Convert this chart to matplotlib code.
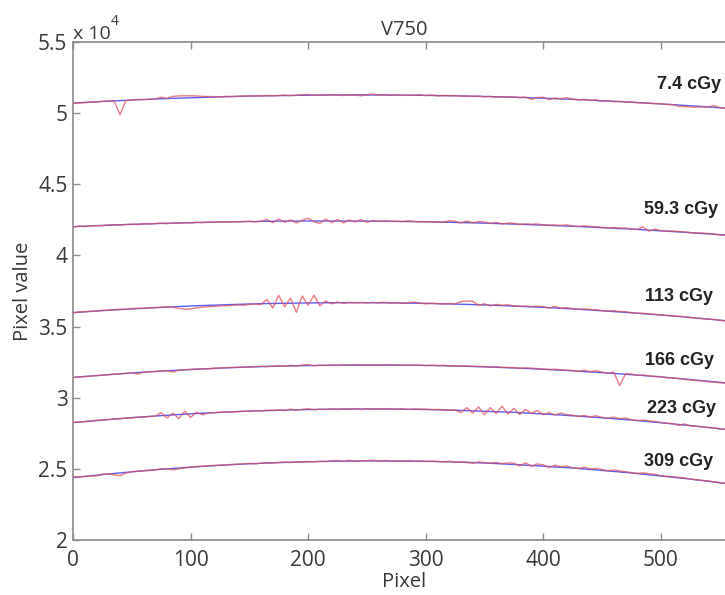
import matplotlib
matplotlib.use("Agg")
import matplotlib.pyplot as plt
from matplotlib.ticker import FormatStrFormatter, MultipleLocator

# ---- data (pixel values in units of 1e4) ----
x_fit = [0, 25, 50, 75, 100, 125, 150, 175, 200, 225, 250, 275, 300, 325, 350,
         375, 400, 425, 450, 475, 500, 525, 550, 560]
fit_7_4 = [5.071, 5.082, 5.092, 5.101, 5.108, 5.114, 5.120, 5.123, 5.126, 5.128, 5.128, 5.127,
           5.125, 5.122, 5.117, 5.112, 5.105, 5.097, 5.087, 5.077, 5.065, 5.052, 5.038, 5.032]
fit_59_3 = [4.202, 4.211, 4.218, 4.225, 4.230, 4.235, 4.238, 4.241, 4.242, 4.242, 4.241, 4.239,
            4.236, 4.232, 4.227, 4.220, 4.213, 4.205, 4.195, 4.185, 4.173, 4.160, 4.146, 4.141]
fit_113 = [3.598, 3.612, 3.624, 3.635, 3.645, 3.652, 3.659, 3.663, 3.666, 3.668, 3.668, 3.666,
           3.663, 3.658, 3.652, 3.644, 3.635, 3.624, 3.611, 3.597, 3.581, 3.564, 3.545, 3.537]
fit_166 = [3.143, 3.159, 3.174, 3.187, 3.198, 3.208, 3.216, 3.222, 3.226, 3.229, 3.230, 3.229,
           3.227, 3.223, 3.217, 3.209, 3.200, 3.189, 3.176, 3.162, 3.146, 3.128, 3.108, 3.100]
fit_223 = [2.825, 2.843, 2.860, 2.874, 2.887, 2.897, 2.906, 2.912, 2.917, 2.920, 2.921, 2.920,
           2.917, 2.912, 2.905, 2.897, 2.886, 2.873, 2.859, 2.843, 2.824, 2.804, 2.782, 2.772]
fit_309 = [2.438, 2.460, 2.479, 2.497, 2.512, 2.525, 2.536, 2.544, 2.550, 2.554, 2.556, 2.555,
           2.553, 2.548, 2.541, 2.531, 2.519, 2.506, 2.489, 2.471, 2.450, 2.428, 2.403, 2.392]

x_meas = list(range(0, 565, 5))
meas_7_4 = [
    5.068, 5.072, 5.074, 5.077, 5.079,
    5.083, 5.085, 5.084, 4.990, 5.088,
    5.094, 5.096, 5.095, 5.098, 5.099,
    5.112, 5.104, 5.118, 5.121, 5.122,
    5.122, 5.121, 5.118, 5.117, 5.116,
    5.115, 5.118, 5.117, 5.119, 5.121,
    5.120, 5.122, 5.121, 5.124, 5.122,
    5.124, 5.127, 5.123, 5.126, 5.129,
    5.131, 5.125, 5.129, 5.127, 5.130,
    5.126, 5.124, 5.129, 5.127, 5.122,
    5.129, 5.133, 5.127, 5.131, 5.126,
    5.130, 5.124, 5.128, 5.126, 5.129,
    5.123, 5.127, 5.121, 5.124, 5.122,
    5.124, 5.119, 5.121, 5.118, 5.120,
    5.115, 5.118, 5.112, 5.116, 5.113,
    5.114, 5.109, 5.113, 5.097, 5.110,
    5.112, 5.095, 5.106, 5.101, 5.108,
    5.099, 5.093, 5.097, 5.090, 5.094,
    5.082, 5.089, 5.080, 5.084, 5.076,
    5.078, 5.073, 5.071, 5.069, 5.067,
    5.066, 5.061, 5.060, 5.049, 5.047,
    5.043, 5.042, 5.044, 5.043, 5.053,
    5.040, 5.035, 5.031]
meas_59_3 = [
    4.200, 4.205, 4.203, 4.208, 4.210,
    4.209, 4.214, 4.216, 4.213, 4.218,
    4.220, 4.218, 4.223, 4.221, 4.224,
    4.227, 4.223, 4.228, 4.226, 4.231,
    4.229, 4.233, 4.231, 4.235, 4.232,
    4.237, 4.234, 4.238, 4.236, 4.239,
    4.240, 4.236, 4.241, 4.252, 4.230,
    4.256, 4.233, 4.250, 4.228, 4.247,
    4.262, 4.236, 4.226, 4.255, 4.231,
    4.253, 4.229, 4.249, 4.235, 4.252,
    4.232, 4.246, 4.238, 4.243, 4.240,
    4.241, 4.238, 4.243, 4.240, 4.237,
    4.238, 4.235, 4.237, 4.234, 4.244,
    4.240, 4.228, 4.242, 4.230, 4.238,
    4.235, 4.224, 4.233, 4.221, 4.228,
    4.226, 4.218, 4.222, 4.219, 4.221,
    4.215, 4.212, 4.214, 4.211, 4.215,
    4.207, 4.204, 4.208, 4.203, 4.202,
    4.197, 4.193, 4.196, 4.192, 4.193,
    4.186, 4.183, 4.200, 4.170, 4.185,
    4.174, 4.171, 4.172, 4.168, 4.166,
    4.161, 4.157, 4.158, 4.154, 4.150,
    4.144, 4.141, 4.139]
meas_113 = [
    3.597, 3.602, 3.605, 3.608, 3.609,
    3.614, 3.616, 3.618, 3.622, 3.620,
    3.626, 3.629, 3.627, 3.632, 3.634,
    3.636, 3.639, 3.635, 3.628, 3.622,
    3.623, 3.632, 3.636, 3.640, 3.642,
    3.645, 3.647, 3.649, 3.652, 3.650,
    3.656, 3.658, 3.655, 3.690, 3.630,
    3.720, 3.640, 3.700, 3.600, 3.715,
    3.650, 3.720, 3.645, 3.680, 3.660,
    3.672, 3.663, 3.670, 3.666, 3.669,
    3.666, 3.670, 3.667, 3.671, 3.665,
    3.668, 3.664, 3.667, 3.672, 3.665,
    3.660, 3.664, 3.661, 3.658, 3.662,
    3.660, 3.675, 3.680, 3.678, 3.650,
    3.660, 3.645, 3.656, 3.650, 3.653,
    3.646, 3.642, 3.645, 3.640, 3.643,
    3.640, 3.630, 3.642, 3.628, 3.633,
    3.626, 3.622, 3.624, 3.620, 3.619,
    3.612, 3.609, 3.611, 3.606, 3.605,
    3.598, 3.594, 3.593, 3.590, 3.586,
    3.582, 3.579, 3.576, 3.572, 3.570,
    3.563, 3.560, 3.556, 3.553, 3.550,
    3.545, 3.540, 3.536]
meas_166 = [
    3.141, 3.146, 3.148, 3.152, 3.155,
    3.158, 3.162, 3.165, 3.168, 3.171,
    3.175, 3.166, 3.180, 3.183, 3.184,
    3.188, 3.191, 3.180, 3.194, 3.196,
    3.199, 3.201, 3.204, 3.203, 3.207,
    3.209, 3.211, 3.213, 3.214, 3.215,
    3.217, 3.218, 3.221, 3.219, 3.222,
    3.224, 3.221, 3.228, 3.223, 3.230,
    3.233, 3.224, 3.229, 3.226, 3.231,
    3.227, 3.231, 3.228, 3.230, 3.232,
    3.228, 3.231, 3.229, 3.232, 3.230,
    3.231, 3.227, 3.230, 3.228, 3.229,
    3.225, 3.229, 3.226, 3.228, 3.224,
    3.225, 3.221, 3.224, 3.222, 3.219,
    3.219, 3.215, 3.218, 3.214, 3.213,
    3.211, 3.207, 3.210, 3.208, 3.205,
    3.201, 3.198, 3.200, 3.196, 3.194,
    3.192, 3.185, 3.194, 3.183, 3.190,
    3.180, 3.172, 3.180, 3.085, 3.168,
    3.166, 3.157, 3.160, 3.154, 3.150,
    3.148, 3.141, 3.138, 3.135, 3.130,
    3.124, 3.121, 3.118, 3.113, 3.110,
    3.106, 3.103, 3.099]
meas_223 = [
    2.827, 2.829, 2.832, 2.836, 2.840,
    2.844, 2.846, 2.850, 2.853, 2.856,
    2.858, 2.862, 2.864, 2.868, 2.871,
    2.895, 2.858, 2.892, 2.853, 2.905,
    2.862, 2.898, 2.880, 2.892, 2.895,
    2.898, 2.901, 2.899, 2.903, 2.905,
    2.904, 2.909, 2.907, 2.912, 2.910,
    2.914, 2.909, 2.920, 2.912, 2.918,
    2.922, 2.915, 2.919, 2.917, 2.921,
    2.918, 2.922, 2.919, 2.924, 2.916,
    2.923, 2.919, 2.922, 2.920, 2.924,
    2.918, 2.923, 2.917, 2.921, 2.919,
    2.920, 2.916, 2.918, 2.915, 2.914,
    2.913, 2.895, 2.930, 2.892, 2.935,
    2.880, 2.930, 2.890, 2.940, 2.885,
    2.925, 2.882, 2.918, 2.890, 2.910,
    2.880, 2.896, 2.878, 2.892, 2.881,
    2.878, 2.868, 2.875, 2.866, 2.873,
    2.862, 2.855, 2.864, 2.852, 2.858,
    2.845, 2.840, 2.842, 2.837, 2.834,
    2.826, 2.822, 2.818, 2.806, 2.816,
    2.803, 2.800, 2.796, 2.792, 2.788,
    2.782, 2.777, 2.771]
meas_309 = [
    2.445, 2.443, 2.447, 2.449, 2.451,
    2.462, 2.464, 2.458, 2.452, 2.470,
    2.480, 2.483, 2.487, 2.490, 2.494,
    2.499, 2.502, 2.493, 2.500, 2.507,
    2.512, 2.517, 2.519, 2.521, 2.524,
    2.526, 2.528, 2.531, 2.533, 2.535,
    2.538, 2.535, 2.540, 2.543, 2.541,
    2.545, 2.549, 2.544, 2.550, 2.547,
    2.552, 2.549, 2.553, 2.551, 2.556,
    2.559, 2.552, 2.560, 2.553, 2.558,
    2.557, 2.561, 2.554, 2.559, 2.555,
    2.557, 2.553, 2.558, 2.554, 2.556,
    2.551, 2.555, 2.552, 2.549, 2.554,
    2.546, 2.550, 2.547, 2.540, 2.549,
    2.543, 2.539, 2.545, 2.537, 2.542,
    2.540, 2.520, 2.543, 2.518, 2.535,
    2.528, 2.510, 2.526, 2.515, 2.520,
    2.508, 2.503, 2.512, 2.500, 2.504,
    2.496, 2.485, 2.492, 2.486, 2.480,
    2.474, 2.468, 2.472, 2.466, 2.462,
    2.452, 2.447, 2.445, 2.441, 2.437,
    2.429, 2.424, 2.420, 2.415, 2.410,
    2.403, 2.398, 2.391]

dose_labels = ["7.4 cGy", "59.3 cGy", "113 cGy", "166 cGy", "223 cGy", "309 cGy"]
label_y = [5.198, 4.326, 3.708, 3.265, 2.921, 2.549]
label_x = [497, 486, 487, 487, 488, 486]

fits = [fit_7_4, fit_59_3, fit_113, fit_166, fit_223, fit_309]
meas = [meas_7_4, meas_59_3, meas_113, meas_166, meas_223, meas_309]

# ---- plot ----
W, H = 725, 595
fig = plt.figure(figsize=(W / 100, H / 100), dpi=100)
ax = fig.add_axes([73 / W, 1 - 540 / H, 663 / W, 498 / H])

TXT = "#383838"
SP = "#8a8a8a"
for m, f in zip(meas, fits):
    ax.plot(x_fit, f, color="#4a4af0", lw=1.0, alpha=0.9, zorder=2)
    ax.plot(x_meas, m, color="#e0505a", lw=1.0, alpha=0.75, zorder=3)

for t, xx, yy in zip(dose_labels, label_x, label_y):
    ax.text(xx, yy, t, fontsize=13, fontweight="bold", family="Liberation Sans",
            color="#222222", va="center", ha="left", zorder=4)

ax.set_xlim(0, 564)
ax.set_ylim(2, 5.5)
ax.xaxis.set_major_locator(MultipleLocator(100))
ax.yaxis.set_major_locator(MultipleLocator(0.5))
ax.yaxis.set_major_formatter(FormatStrFormatter("%g"))

for s in ["left", "bottom", "top"]:
    ax.spines[s].set_color(SP)
    ax.spines[s].set_linewidth(1.2)
ax.spines["right"].set_visible(False)
ax.tick_params(direction="in", length=5, width=1, color=SP, top=True,
               labelsize=15, labelcolor=TXT)
ax.tick_params(axis="x", pad=7)
ax.tick_params(axis="y", pad=4)
for lab in ax.get_xticklabels() + ax.get_yticklabels():
    lab.set_family("Open Sans")

ax.set_xlabel("Pixel", fontsize=14.5, family="Open Sans", color=TXT, labelpad=1)
ax.set_ylabel("Pixel value", fontsize=14.5, family="Open Sans", color=TXT, labelpad=4)
ax.set_title("V750", fontsize=14.5, family="Open Sans", color=TXT, pad=5)

fig.text(73 / W, 1 - 39 / H, "x 10", fontsize=14, family="Open Sans", color=TXT,
         ha="left", va="baseline")
fig.text(111 / W, 1 - 25 / H, "4", fontsize=10, family="Open Sans", color=TXT,
         ha="left", va="baseline")

fig.savefig("out.png", dpi=100)
